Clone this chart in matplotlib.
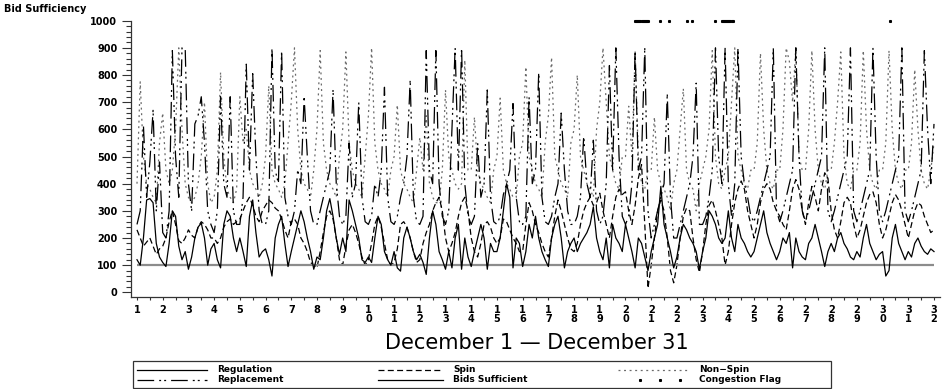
import numpy as np
import matplotlib.pyplot as plt
from matplotlib.patches import Rectangle

plt.rcParams['font.family'] = 'DejaVu Sans'
plt.rcParams['lines.scale_dashes'] = False

# values read every 3 hours, one row per day (Dec 1 .. Dec 31), plus the last reading
STEP_H = 3

regulation = [
    [120, 100, 200, 340, 345, 330, 180, 130],
    [110, 95, 180, 300, 280, 170, 120, 150],
    [85, 130, 200, 240, 255, 200, 100, 160],
    [180, 120, 90, 250, 300, 280, 200, 150],
    [200, 150, 95, 280, 340, 220, 130, 150],
    [160, 120, 60, 200, 250, 280, 180, 95],
    [150, 200, 250, 300, 260, 200, 150, 85],
    [130, 120, 200, 300, 345, 280, 200, 140],
    [200, 150, 340, 300, 250, 200, 120, 110],
    [130, 110, 200, 280, 250, 150, 120, 100],
    [150, 90, 78, 200, 240, 200, 150, 120],
    [140, 110, 66, 200, 300, 250, 150, 120],
    [85, 150, 90, 200, 250, 85, 200, 130],
    [95, 150, 200, 250, 200, 85, 180, 150],
    [150, 200, 300, 400, 350, 90, 200, 180],
    [95, 150, 250, 200, 280, 200, 150, 120],
    [95, 200, 250, 280, 200, 90, 150, 180],
    [200, 150, 180, 200, 220, 250, 315, 200],
    [150, 120, 200, 90, 250, 200, 180, 150],
    [250, 200, 150, 90, 200, 180, 130, 80],
    [150, 200, 250, 390, 250, 200, 150, 90],
    [130, 200, 250, 230, 200, 180, 150, 85],
    [150, 200, 300, 280, 250, 200, 180, 200],
    [300, 200, 150, 250, 200, 180, 150, 130],
    [150, 200, 250, 300, 220, 180, 150, 120],
    [150, 200, 180, 220, 90, 200, 150, 130],
    [120, 180, 200, 250, 200, 150, 95, 150],
    [180, 150, 200, 220, 180, 160, 130, 120],
    [150, 130, 200, 250, 180, 150, 120, 140],
    [150, 60, 80, 200, 250, 180, 150, 120],
    [150, 130, 180, 200, 170, 150, 140, 160],
]
regulation_last = 150

spin = [
    [230, 200, 170, 185, 200, 170, 140, 160],
    [170, 200, 260, 300, 250, 190, 180, 200],
    [230, 210, 200, 240, 260, 250, 230, 200],
    [200, 180, 200, 240, 260, 270, 250, 260],
    [270, 300, 330, 350, 320, 280, 260, 300],
    [320, 340, 330, 310, 300, 270, 230, 200],
    [260, 270, 250, 200, 180, 150, 110, 100],
    [90, 150, 220, 280, 300, 270, 200, 120],
    [100, 170, 230, 250, 220, 180, 130, 100],
    [120, 180, 250, 280, 240, 180, 120, 100],
    [110, 160, 250, 260, 240, 200, 150, 110],
    [120, 180, 220, 250, 300, 330, 350, 300],
    [200, 150, 180, 220, 280, 330, 350, 300],
    [200, 150, 130, 180, 250, 260, 240, 200],
    [180, 200, 270, 260, 230, 200, 180, 150],
    [150, 250, 330, 300, 250, 220, 180, 150],
    [130, 200, 280, 340, 300, 250, 200, 160],
    [150, 180, 250, 300, 330, 350, 320, 330],
    [365, 300, 250, 200, 280, 350, 380, 360],
    [370, 300, 250, 320, 420, 470, 250, 15],
    [100, 200, 300, 340, 300, 200, 80, 35],
    [100, 200, 280, 310, 300, 200, 120, 73],
    [150, 250, 320, 340, 300, 250, 200, 100],
    [150, 250, 330, 380, 410, 380, 300, 250],
    [200, 250, 330, 380, 400, 380, 330, 300],
    [280, 250, 230, 300, 380, 415, 380, 300],
    [250, 330, 390, 350, 300, 380, 440, 420],
    [300, 230, 200, 260, 330, 350, 330, 250],
    [200, 230, 280, 330, 360, 370, 330, 250],
    [200, 230, 280, 330, 360, 340, 300, 250],
    [200, 250, 300, 330, 320, 280, 250, 220],
]
spin_last = 230

non_spin = [
    [400, 775, 500, 400, 380, 350, 330, 550],
    [660, 450, 400, 450, 600, 900, 600, 400],
    [350, 330, 350, 400, 500, 700, 400, 330],
    [350, 450, 810, 500, 380, 350, 330, 380],
    [720, 550, 600, 450, 400, 380, 350, 400],
    [500, 760, 450, 400, 380, 350, 400, 550],
    [700, 900, 600, 450, 400, 380, 350, 450],
    [600, 890, 550, 450, 400, 380, 350, 500],
    [600, 885, 550, 450, 400, 380, 350, 500],
    [650, 900, 550, 450, 400, 380, 350, 450],
    [500, 690, 450, 400, 380, 350, 330, 450],
    [570, 450, 650, 400, 350, 330, 330, 450],
    [745, 500, 450, 400, 380, 400, 855, 450],
    [450, 645, 450, 400, 380, 350, 330, 450],
    [500, 715, 450, 400, 380, 350, 350, 500],
    [550, 830, 500, 450, 400, 380, 350, 550],
    [650, 865, 500, 450, 400, 380, 350, 550],
    [600, 800, 500, 450, 400, 380, 350, 600],
    [700, 900, 700, 500, 450, 400, 380, 500],
    [500, 685, 500, 885, 500, 400, 380, 450],
    [450, 645, 450, 400, 380, 350, 300, 400],
    [450, 600, 750, 450, 400, 380, 300, 400],
    [450, 500, 600, 890, 500, 400, 380, 450],
    [500, 700, 900, 500, 450, 400, 380, 450],
    [450, 550, 880, 600, 450, 400, 380, 450],
    [450, 600, 900, 850, 700, 900, 500, 450],
    [450, 600, 890, 600, 450, 400, 380, 450],
    [450, 550, 700, 885, 500, 400, 380, 450],
    [450, 550, 890, 600, 450, 400, 380, 450],
    [450, 550, 890, 600, 450, 400, 380, 450],
    [450, 550, 820, 600, 450, 400, 380, 450],
]
non_spin_last = 550

replacement = [
    [250, 300, 615, 350, 480, 670, 300, 480],
    [220, 200, 300, 890, 500, 350, 900, 900],
    [400, 300, 620, 650, 720, 550, 300, 250],
    [220, 300, 720, 400, 350, 720, 300, 250],
    [250, 350, 840, 450, 805, 500, 300, 250],
    [250, 300, 900, 450, 400, 890, 350, 280],
    [250, 300, 450, 400, 720, 500, 300, 250],
    [250, 300, 350, 400, 450, 745, 400, 280],
    [250, 280, 550, 350, 400, 700, 350, 260],
    [250, 280, 400, 350, 450, 755, 350, 260],
    [250, 280, 350, 400, 500, 780, 350, 260],
    [250, 280, 890, 450, 400, 890, 400, 280],
    [250, 300, 600, 900, 450, 900, 400, 280],
    [250, 280, 550, 350, 400, 745, 350, 260],
    [250, 280, 360, 400, 450, 695, 350, 260],
    [250, 280, 720, 400, 450, 810, 350, 260],
    [250, 280, 350, 400, 660, 450, 300, 250],
    [250, 280, 350, 575, 400, 350, 560, 300],
    [250, 280, 400, 835, 450, 900, 500, 280],
    [250, 280, 400, 890, 450, 500, 900, 300],
    [200, 250, 300, 350, 400, 730, 350, 200],
    [200, 250, 300, 350, 400, 500, 770, 250],
    [250, 280, 350, 450, 900, 500, 400, 900],
    [400, 280, 400, 900, 500, 400, 350, 280],
    [260, 300, 350, 400, 450, 500, 900, 300],
    [260, 300, 350, 400, 450, 900, 500, 300],
    [260, 300, 350, 400, 450, 500, 900, 300],
    [260, 300, 350, 400, 450, 500, 900, 300],
    [260, 300, 350, 400, 450, 900, 500, 300],
    [260, 300, 350, 400, 450, 500, 900, 300],
    [260, 300, 350, 400, 450, 890, 600, 400],
]
replacement_last = 620

bids_sufficient = 100
# hours (from Dec 1 00:00) with a congestion flag
congestion_hours = list(range(465, 478)) + [488, 497, 513, 518, 540] + list(range(546, 557)) + [703]
congestion_level = 1000

days = list(range(1, 33))


def series(rows, last):
    return np.r_[np.ravel(rows), last]


reg = series(regulation, regulation_last)
spn = series(spin, spin_last)
nsp = series(non_spin, non_spin_last)
rep = series(replacement, replacement_last)
x = 1 + np.arange(len(reg)) * STEP_H / 24
xc = 1 + np.array(congestion_hours) / 24

# line styles
DASH_SPIN = (0, (4.3, 2.4))
DASH_NONSPIN = (0, (1.4, 2.6))
DASH_REPL = (0, (12, 3.6, 1.4, 2.2, 1.4, 3.6))
LW = 0.9

fig = plt.figure(figsize=(9.47, 3.89), dpi=100)
W, H = 947, 389
ax = fig.add_axes([131 / W, (H - 297) / H, 809 / W, (297 - 20.7) / H])

ax.plot(x, nsp, color='#6a6a6a', lw=LW, ls=DASH_NONSPIN)
ax.plot(x, rep, color='black', lw=LW, ls=DASH_REPL)
ax.plot(x, spn, color='black', lw=LW, ls=DASH_SPIN)
ax.hlines(bids_sufficient, x[0], x[-1], color='#8c8c8c', lw=1.6)
ax.plot(x, reg, color='black', lw=LW)
ax.plot(xc, np.full(len(xc), congestion_level), ls='none', marker='s',
        ms=1.2, color='black', clip_on=False)

ax.set_xlim(1 - 6 / 25.71, 32 + 6 / 25.71)
ax.set_ylim(-17.2, 1000)
for s in ['top', 'right']:
    ax.spines[s].set_visible(False)
for s in ['left', 'bottom']:
    ax.spines[s].set_color('#333333')
    ax.spines[s].set_linewidth(0.9)

ax.set_yticks(np.arange(0, 1001, 100))
ax.set_yticks(np.arange(0, 1001, 20), minor=True)
ax.set_xticks(days)
ax.set_xticks(np.arange(1.5, 32, 1), minor=True)
ax.set_xticklabels([str(d) if d < 10 else '\n'.join(str(d)) for d in days],
                   fontsize=7, fontweight='bold', linespacing=0.9)
ax.set_yticklabels([str(v) for v in range(0, 1001, 100)], fontsize=7, fontweight='bold')
ax.tick_params(axis='y', which='major', length=6.5, width=0.8, pad=3.4, color='#333333')
ax.tick_params(axis='y', which='minor', length=3.4, width=0.8, color='#333333')
ax.tick_params(axis='x', which='both', length=2.5, width=0.8, pad=3, color='#333333')

fig.text(4 / W, 1 - 4 / H, 'Bid Sufficiency', fontsize=7, fontweight='bold', va='top', ha='left')
fig.text(537 / W, 1 - 343 / H, 'December 1 \u2014 December 31', fontsize=15,
         ha='center', va='center')

# legend drawn in a pixel-coordinate overlay
lax = fig.add_axes([0, 0, 1, 1], facecolor='none')
lax.set_xlim(0, W)
lax.set_ylim(H, 0)
lax.axis('off')
lax.add_patch(Rectangle((133, 361), 698, 26.5, fill=False, ec='#333333', lw=0.9))

entries = [
    ('Regulation', 137, 207, 217, 370, dict(color='black', ls='-')),
    ('Spin', 378, 443, 453, 370, dict(color='black', ls=DASH_SPIN)),
    ('Non\u2212Spin', 618, 687, 699, 370, dict(color='#6a6a6a', ls=DASH_NONSPIN)),
    ('Replacement', 137, 207, 217, 380, dict(color='black', ls=DASH_REPL)),
    ('Bids Sufficient', 378, 443, 453, 380, dict(color='black', ls='-')),
]
for label, x0, x1, tx, ty, st in entries:
    lax.plot([x0, x1], [ty, ty], lw=LW, **st)
    lax.text(tx, ty, label, fontsize=6.5, fontweight='bold', va='center', ha='left')
lax.plot([640, 660, 680], [380, 380, 380], ls='none', marker='s', ms=1.2, color='black')
lax.text(699, 380, 'Congestion Flag', fontsize=6.5, fontweight='bold', va='center', ha='left')

fig.savefig('out.png', dpi=100)
